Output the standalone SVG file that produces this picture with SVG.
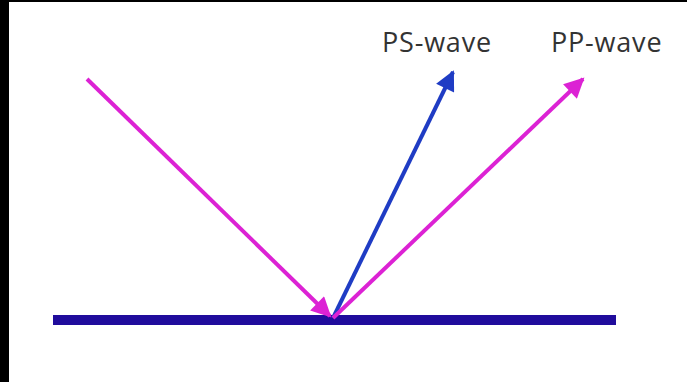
<svg xmlns="http://www.w3.org/2000/svg" width="687" height="382" viewBox="0 0 687 382">
<style>
.lbl{font-family:"Open Sans","Noto Sans",sans-serif;font-size:27px;fill:#333333;letter-spacing:0.8px}
.mag{stroke:#dc22d4;stroke-width:4;fill:none}
.blu{stroke:#1f3cc4;stroke-width:4;fill:none}
</style>
<defs>
<marker id="am" viewBox="0 0 10 10" refX="9" refY="5" markerWidth="5.5" markerHeight="5" markerUnits="strokeWidth" orient="auto"><path d="M0,0 L10,5 L0,10 z" fill="#dc22d4"/></marker>
<marker id="ab" viewBox="0 0 10 10" refX="9" refY="5" markerWidth="5.5" markerHeight="5" markerUnits="strokeWidth" orient="auto"><path d="M0,0 L10,5 L0,10 z" fill="#1f3cc4"/></marker>
</defs>
<rect x="0" y="0" width="687" height="382" fill="#ffffff"/>
<rect x="0" y="0" width="9" height="382" fill="#000000"/>
<rect x="0" y="0" width="687" height="2" fill="#000000"/>
<g id="ground"><rect x="53" y="315" width="563" height="10" fill="#200c9c"/></g>
<g id="connectors">
<line class="mag" x1="87" y1="79" x2="330" y2="316" marker-end="url(#am)"/>
<line class="blu" x1="333" y1="318" x2="453" y2="72" marker-end="url(#ab)"/>
<line class="mag" x1="333" y1="318" x2="583" y2="79" marker-end="url(#am)"/>
</g>
<g id="ps"><text class="lbl" x="382" y="52">PS-wave</text></g>
<g id="pp"><text class="lbl" x="551" y="52">PP-wave</text></g>
</svg>
